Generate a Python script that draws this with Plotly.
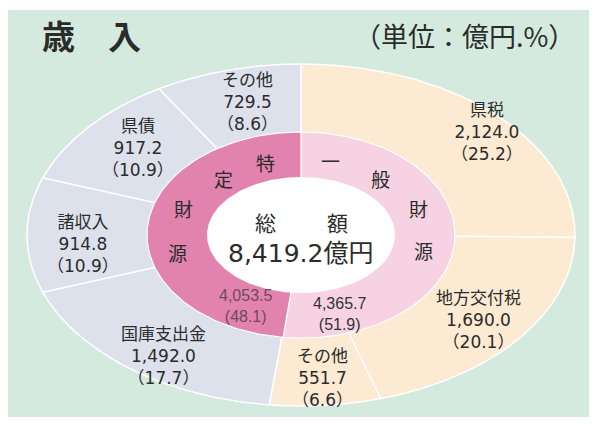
import numpy as np
import plotly.graph_objects as go

# ---------------- data ----------------
outer_labels = ["県税", "地方交付税", "その他", "国庫支出金", "諸収入", "県債", "その他"]
outer_values = [2124.0, 1690.0, 551.7, 1492.0, 914.8, 917.2, 729.5]
outer_pcts = [25.2, 20.1, 6.6, 17.7, 10.9, 10.9, 8.6]
outer_group = ["一般", "一般", "一般", "特定", "特定", "特定", "特定"]
inner_labels = ["一般財源", "特定財源"]
inner_values = [4365.7, 4053.5]
inner_pcts = [51.9, 48.1]
total_value = 8419.2

# ---------------- styling / geometry ----------------
W, H = 597, 424
OFF = 8  # page body margin compensation
CX, CY = 301, 235
OUTER_R = (274, 171)
INNER_R = (154, 103)
HOLE_R = (94, 58)
BG_GREEN = "#D5EADE"
GROUP_COLOR = {"一般": "#FCEAD3", "特定": "#DDE1EC"}
INNER_COLOR = {"一般財源": "#F6D2E3", "特定財源": "#E183AE"}
TEXT = "#2B2B2B"
LAT = "DejaVu Sans, Noto Sans CJK JP, sans-serif"
JP = "Noto Sans CJK JP, sans-serif"


def wedge(frac0, frac1, radii, n=120):
    a, b = radii
    th = np.linspace(frac0, frac1, n) * 2 * np.pi
    xs = np.concatenate([[CX], CX + a * np.sin(th), [CX]])
    ys = np.concatenate([[CY], CY - b * np.cos(th), [CY]])
    return xs, ys


fig = go.Figure()

# outer ring
cum = np.concatenate([[0], np.cumsum(outer_values)]) / total_value
for i, lab in enumerate(outer_labels):
    xs, ys = wedge(cum[i], cum[i + 1], OUTER_R)
    fig.add_trace(go.Scatter(x=xs, y=ys, mode="lines", fill="toself",
                             fillcolor=GROUP_COLOR[outer_group[i]],
                             line=dict(color="white", width=1.5),
                             hoverinfo="skip", showlegend=False))

# inner ring
cum_in = np.concatenate([[0], np.cumsum(inner_values)]) / total_value
for i, lab in enumerate(inner_labels):
    xs, ys = wedge(cum_in[i], cum_in[i + 1], INNER_R)
    fig.add_trace(go.Scatter(x=xs, y=ys, mode="lines", fill="toself",
                             fillcolor=INNER_COLOR[lab],
                             line=dict(color="white", width=1.2),
                             hoverinfo="skip", showlegend=False))

# hole
xs, ys = wedge(0, 1, HOLE_R, n=200)
fig.add_trace(go.Scatter(x=xs[1:-1], y=ys[1:-1], mode="lines", fill="toself",
                         fillcolor="white", line=dict(color="white", width=0),
                         hoverinfo="skip", showlegend=False))

annotations = []

# outer labels (hand-placed positions like the original)
label_pos = [(487, 132), (478, 320), (322, 378), (163, 356), (83, 244), (138, 148), (247, 102)]
for lab, v, p, (x, y) in zip(outer_labels, outer_values, outer_pcts, label_pos):
    annotations.append(dict(x=x, y=y, text=f"{lab}<br>{v:,.1f}<br>（{p}）",
                            showarrow=False, font=dict(family=LAT, size=17, color=TEXT),
                            xanchor="center", yanchor="middle", align="center"))

# inner ring amounts
inner_pos = [(339, 314), (245, 306)]
inner_col = ["#333333", "#6E4A5C"]
for v, p, (x, y), c in zip(inner_values, inner_pcts, inner_pos, inner_col):
    annotations.append(dict(x=x, y=y, text=f"{v:,.1f}<br>({p})", showarrow=False,
                            font=dict(family="Liberation Sans, Arial, sans-serif", size=16, color=c),
                            xanchor="center", yanchor="middle", align="center"))

# ring characters
ring_chars = [("一", 330, 160), ("般", 380, 178), ("財", 418, 208), ("源", 423, 250),
              ("特", 265, 162), ("定", 223, 178), ("財", 183, 208), ("源", 177, 252)]
for ch, x, y in ring_chars:
    annotations.append(dict(x=x, y=y, text=ch, showarrow=False,
                            font=dict(family=JP, size=19, color=TEXT),
                            xanchor="center", yanchor="middle"))

# center
annotations.append(dict(x=265, y=222, text="総", showarrow=False,
                        font=dict(family=JP, size=21, color=TEXT)))
annotations.append(dict(x=337, y=222, text="額", showarrow=False,
                        font=dict(family=JP, size=21, color=TEXT)))
annotations.append(dict(x=300, y=253, text=f"{total_value:,.1f}億円", showarrow=False,
                        font=dict(family=LAT, size=25, color=TEXT)))

# titles
annotations.append(dict(x=40, y=35, text="歳　入", showarrow=False, xanchor="left",
                        font=dict(family=JP, size=33, color=TEXT, weight="bold")))
annotations.append(dict(x=577, y=35, text="（単位：億円.%）", showarrow=False, xanchor="right",
                        font=dict(family=JP, size=27, color=TEXT)))

for a in annotations:
    a.setdefault("xref", "x")
    a.setdefault("yref", "y")

fig.update_layout(
    width=W, height=H,
    margin=dict(l=0, r=0, t=0, b=0),
    paper_bgcolor="white", plot_bgcolor="rgba(0,0,0,0)",
    xaxis=dict(range=[OFF, W + OFF], visible=False, fixedrange=True),
    yaxis=dict(range=[H + OFF, OFF], visible=False, fixedrange=True),
    shapes=[dict(type="rect", xref="x", yref="y", x0=8, x1=W + OFF, y0=10, y1=417,
                 fillcolor=BG_GREEN, line=dict(width=0), layer="below")],
    annotations=annotations,
)

fig.write_html("out.html")
